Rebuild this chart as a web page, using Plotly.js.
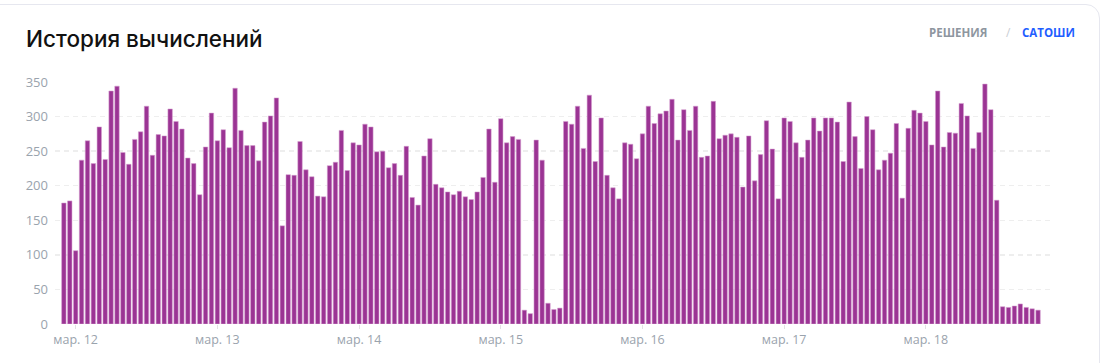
<!DOCTYPE html>
<html>
<head>
<meta charset="utf-8">
<script src="https://cdn.plot.ly/plotly-3.0.1.min.js"></script>
<style>
  html, body { margin: 0; padding: 0; background: #ffffff; width: 1104px; height: 363px; overflow: hidden; }
  #card { position: absolute; left: -14px; top: 4px; width: 1114px; height: 420px; border: 1px solid #e6e7ef; border-radius: 14px; box-sizing: border-box; }
  #chart { position: absolute; left: 0; top: 0; width: 1104px; height: 363px; }
</style>
</head>
<body>
<div id="card"></div>
<div id="chart"></div>
<script>
// ---- data ----
var chartTitle = "История вычислений";
var linkLeft = "РЕШЕНИЯ";
var linkRight = "САТОШИ";
var startHourUTC = "2023-03-11T22:00:00Z"; // first hourly bucket
var values = [
  175,178,106,237,265,232,285,238,337,344,248,231,267,278,315,244,274,272,311,293,282,240,232,187,
  256,305,265,281,255,341,280,258,258,236,292,301,327,142,216,215,264,223,213,185,184,229,234,280,222,262,259,289,285,249,250,226,
  232,215,257,183,172,243,268,202,197,191,187,192,184,180,191,212,282,205,297,262,271,267,20,15,266,237,30,21,23,293,289,315,
  254,331,235,298,215,197,181,262,260,239,275,315,290,304,308,325,266,310,280,315,241,243,322,268,273,275,270,198,272,207,245,294,
  253,181,298,293,262,241,266,298,279,298,298,292,235,321,271,225,300,281,223,237,247,290,182,283,309,305,293,259,337,256,277,276,
  319,301,254,277,347,310,179,25,24,26,29,24,22,20
];
var tickDates = ["2023-03-12","2023-03-13","2023-03-14","2023-03-15","2023-03-16","2023-03-17","2023-03-18"];
var tickLabels = ["мар. 12","мар. 13","мар. 14","мар. 15","мар. 16","мар. 17","мар. 18"];
var yTicks = [0,50,100,150,200,250,300,350];

// ---- build hourly timestamps ----
function fmt(d) {
  return d.toISOString().slice(0,19).replace("T"," ");
}
var t0 = new Date(startHourUTC).getTime();
var times = values.map(function(v, i){ return fmt(new Date(t0 + i*3600000)); });

var font = "'Open Sans', 'Noto Sans', sans-serif";
var titleFont = "Inter, 'Open Sans', sans-serif";
var gridColor = "#eeeeee";
var tickColor = "#9aa3ad";

var trace = {
  type: "bar",
  x: times,
  y: values,
  marker: { color: "#9b3494", line: { color: "rgba(214,160,208,0.9)", width: 0.6 } },
  hoverinfo: "x+y"
};

var layout = {
  width: 1104, height: 363,
  margin: { l: 55, r: 51, t: 82, b: 39, pad: 0 },
  paper_bgcolor: "rgba(0,0,0,0)",
  plot_bgcolor: "rgba(0,0,0,0)",
  bargap: 0.25,
  showlegend: false,
  xaxis: {
    type: "date",
    range: ["2023-03-11 20:30", "2023-03-18 21:32"],
    tickvals: tickDates,
    ticktext: tickLabels,
    showgrid: false,
    zeroline: false,
    showline: false,
    ticks: "outside",
    ticklen: 4,
    tickwidth: 1,
    tickcolor: "#e3e3e3",
    tickfont: { family: font, size: 12.5, color: tickColor }
  },
  yaxis: {
    range: [0, 350],
    tickvals: yTicks,
    showgrid: true,
    gridcolor: gridColor,
    gridwidth: 1.5,
    griddash: "5px,4px",
    zeroline: false,
    showline: false,
    ticks: "",
    ticklabelstandoff: 6,
    tickfont: { family: font, size: 13, color: tickColor }
  },
  annotations: [
    { xref: "paper", yref: "paper", x: -0.0311, y: 1.18, xanchor: "left", yanchor: "middle",
      text: chartTitle, showarrow: false, font: { family: titleFont, size: 22.5, color: "#111111", weight: 500 } },
    { xref: "paper", yref: "paper", x: 0.9359, y: 1.2025, xanchor: "right", yanchor: "middle",
      text: linkLeft, showarrow: false, font: { family: font, size: 11.5, color: "#8e969f", weight: 700 } },
    { xref: "paper", yref: "paper", x: 0.9559, y: 1.2025, xanchor: "center", yanchor: "middle",
      text: "/", showarrow: false, font: { family: font, size: 12, color: "#c9cdd3" } },
    { xref: "paper", yref: "paper", x: 1.024, y: 1.2025, xanchor: "right", yanchor: "middle",
      text: linkRight, showarrow: false, font: { family: font, size: 11.5, color: "#1f5eff", weight: 700 } }
  ]
};

Plotly.newPlot("chart", [trace], layout, { displayModeBar: false, staticPlot: true });
</script>
</body>
</html>
